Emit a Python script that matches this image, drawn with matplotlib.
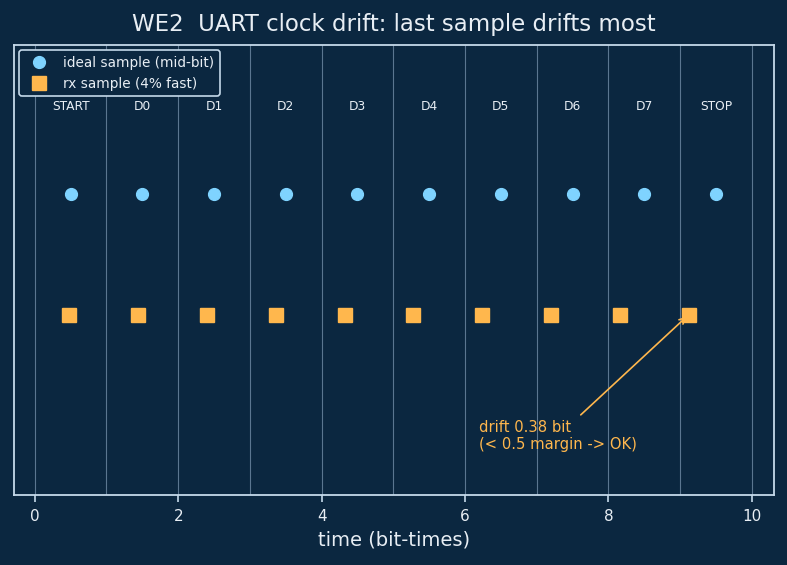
import matplotlib
matplotlib.use("Agg")
import matplotlib.pyplot as plt

bit_labels = ["START", "D0", "D1", "D2", "D3", "D4", "D5", "D6", "D7", "STOP"]
ideal_t = [0.5, 1.5, 2.5, 3.5, 4.5, 5.5, 6.5, 7.5, 8.5, 9.5]
rx_t = [0.48, 1.44, 2.40, 3.36, 4.32, 5.28, 6.24, 7.20, 8.16, 9.12]
bit_edges = [0, 1, 2, 3, 4, 5, 6, 7, 8, 9, 10]

BG = "#0b2740"
FG = "#e8eef4"
SPINE = "#c5d9ea"
BLUE = "#7fd3ff"
ORANGE = "#ffb74d"
GRID = "#5b7690"

fig = plt.figure(figsize=(7.87, 5.65), dpi=100, facecolor=BG)
ax = fig.add_axes([14/787, 1 - 495/565, 760/787, 450/565])
ax.set_facecolor(BG)

for e in bit_edges:
    ax.axvline(e, color=GRID, lw=0.8, zorder=1)

ax.plot(ideal_t, [1]*len(ideal_t), 'o', color=BLUE, ms=8.5, ls='none',
        label="ideal sample (mid-bit)", zorder=3)
ax.plot(rx_t, [0]*len(rx_t), 's', color=ORANGE, ms=9.5, ls='none',
        label="rx sample (4% fast)", zorder=3)

for i, lab in enumerate(bit_labels):
    ax.text(ideal_t[i], 1.72, lab, color=FG, fontsize=8.8, ha='center', va='center')

drift = ideal_t[-1] - rx_t[-1]
ax.annotate(f"drift {drift:.2f} bit\n(< 0.5 margin -> OK)",
            xy=(rx_t[-1], 0), xytext=(6.2, -1.0),
            color=ORANGE, fontsize=10.6, ha='left', va='center',
            arrowprops=dict(arrowstyle='->', color=ORANGE, lw=1.2))

ax.set_xlim(-0.29, 10.31)
ax.set_ylim(-1.49, 2.23)
ax.set_yticks([])
ax.set_xticks([0, 2, 4, 6, 8, 10])
ax.tick_params(axis='x', colors=SPINE, labelcolor=FG, labelsize=11,
               length=5, width=1.2, pad=5)
for s in ax.spines.values():
    s.set_color(SPINE)
    s.set_linewidth(1.3)
ax.set_xlabel("time (bit-times)", color=FG, fontsize=14, labelpad=5)
ax.set_title("WE2  UART clock drift: last sample drifts most", color=FG,
             fontsize=16.5, pad=10)

leg = ax.legend(loc='upper left', fontsize=9.8, facecolor=BG, edgecolor=SPINE,
                framealpha=1, borderaxespad=0.4, markerscale=1.0)
leg.get_frame().set_linewidth(1.2)
for t in leg.get_texts():
    t.set_color(FG)

fig.savefig("out.png", dpi=100, facecolor=BG)
